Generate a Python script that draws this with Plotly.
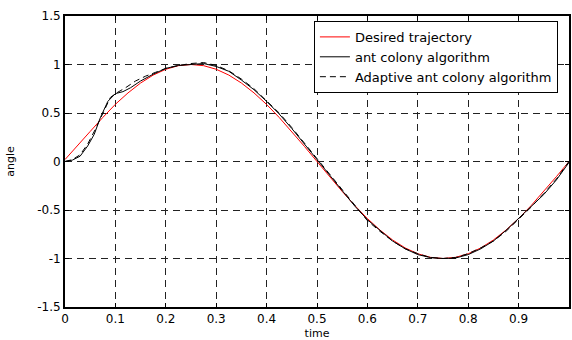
import plotly.graph_objects as go

# Desired trajectory
t_des = [0, 0.025, 0.05, 0.075, 0.1, 0.125, 0.15, 0.175, 0.2, 0.225, 0.25, 0.275, 0.3, 0.325, 0.35,
         0.375, 0.4, 0.425, 0.45, 0.475, 0.5, 0.525, 0.55, 0.575, 0.6, 0.625, 0.65, 0.675, 0.7,
         0.725, 0.75, 0.775, 0.8, 0.825, 0.85, 0.875, 0.9, 0.925, 0.95, 0.975, 1.0]
y_des = [0.02, 0.16, 0.31, 0.454, 0.59, 0.707, 0.809, 0.891, 0.951, 0.988, 1.0, 0.988, 0.951, 0.891,
         0.809, 0.707, 0.588, 0.454, 0.309, 0.156, 0.0, -0.156, -0.309, -0.454, -0.588, -0.707,
         -0.809, -0.891, -0.951, -0.988, -1.0, -0.988, -0.951, -0.891, -0.809, -0.707, -0.588,
         -0.454, -0.309, -0.156, 0.0]

# Ant colony algorithm
t_ant = [0, 0.015, 0.03, 0.045, 0.058, 0.07, 0.085, 0.1, 0.115, 0.13, 0.15, 0.175, 0.2, 0.225,
         0.25, 0.275, 0.3, 0.325, 0.35, 0.375, 0.4, 0.425, 0.45, 0.475, 0.5, 0.525, 0.55, 0.575,
         0.6, 0.625, 0.65, 0.675, 0.7, 0.725, 0.75, 0.775, 0.8, 0.825, 0.85, 0.875, 0.9, 0.925,
         0.95, 0.975, 1.0]
y_ant = [0, 0.015, 0.055, 0.16, 0.28, 0.45, 0.62, 0.70, 0.72, 0.76, 0.83, 0.90, 0.96, 0.99,
         1.0, 1.01, 0.98, 0.93, 0.84, 0.74, 0.62, 0.49, 0.34, 0.18, 0.02, -0.14, -0.30, -0.46,
         -0.60, -0.71, -0.82, -0.90, -0.96, -0.99, -1.0, -0.995, -0.96, -0.90, -0.82, -0.71,
         -0.59, -0.47, -0.34, -0.19, -0.01]

# Adaptive ant colony algorithm
t_ada = [0, 0.015, 0.03, 0.045, 0.06, 0.075, 0.09, 0.1, 0.12, 0.14, 0.16, 0.18, 0.2, 0.225,
         0.25, 0.275, 0.3, 0.325, 0.35, 0.375, 0.4, 0.425, 0.45, 0.475, 0.5, 0.525, 0.55, 0.575,
         0.6, 0.625, 0.65, 0.675, 0.7, 0.725, 0.75, 0.775, 0.8, 0.825, 0.85, 0.875, 0.9, 0.925,
         0.95, 0.975, 1.0]
y_ada = [0, 0.02, 0.07, 0.18, 0.33, 0.50, 0.66, 0.70, 0.76, 0.83, 0.88, 0.92, 0.96, 0.99,
         1.01, 1.02, 0.99, 0.935, 0.85, 0.75, 0.63, 0.50, 0.35, 0.19, 0.03, -0.13, -0.29, -0.45,
         -0.61, -0.72, -0.82, -0.90, -0.95, -0.99, -1.0, -0.99, -0.95, -0.89, -0.82, -0.72,
         -0.60, -0.47, -0.33, -0.18, 0.0]

x_ticks = [0, 0.1, 0.2, 0.3, 0.4, 0.5, 0.6, 0.7, 0.8, 0.9, 1]
x_labels = ["0", "0.1", "0.2", "0.3", "0.4", "0.5", "0.6", "0.7", "0.8", "0.9", "1"]
y_ticks = [-1.5, -1, -0.5, 0, 0.5, 1, 1.5]
y_labels = ["-1.5", "-1", "-0.5", "0", "0.5", "1", "1.5"]

fig = go.Figure()
fig.add_trace(go.Scatter(x=t_des, y=y_des, mode="lines", name="Desired trajectory",
                         line=dict(color="red", width=1)))
fig.add_trace(go.Scatter(x=t_ant, y=y_ant, mode="lines", name="ant colony algorithm",
                         line=dict(color="black", width=1)))
fig.add_trace(go.Scatter(x=t_ada, y=y_ada, mode="lines", name="Adaptive ant colony algorithm",
                         line=dict(color="black", width=1, dash="6px,4px")))

font = "DejaVu Sans, Arial, sans-serif"
axis_common = dict(showline=True, linecolor="black", linewidth=2, mirror="ticks",
                   ticks="inside", ticklen=4, tickcolor="black", showgrid=True,
                   gridcolor="#222", gridwidth=1, griddash="7px,5px", zeroline=False,
                   tickfont=dict(family=font, size=12, color="black"))
fig.update_xaxes(range=[0, 1], tickvals=x_ticks, ticktext=x_labels,
                 title=dict(text="time", font=dict(family=font, size=11, color="black"), standoff=5),
                 **axis_common)
fig.update_yaxes(range=[-1.5, 1.5], tickvals=y_ticks, ticktext=y_labels,
                 title=dict(text="angle", font=dict(family=font, size=11, color="black"), standoff=20),
                 **axis_common)
fig.update_layout(
    width=572, height=340,
    margin=dict(l=65, r=1, t=16, b=32),
    paper_bgcolor="white", plot_bgcolor="white",
    showlegend=True,
    legend=dict(x=0.978, y=0.983, xanchor="right", yanchor="top",
                bgcolor="white", bordercolor="black", borderwidth=1,
                font=dict(family=font, size=13, color="black"),
                tracegroupgap=0),
)
fig.write_html("out.html")
